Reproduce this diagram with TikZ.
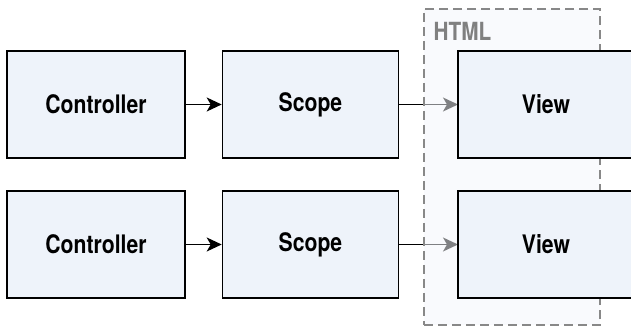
\documentclass[tikz,border=0pt]{standalone}
\usepackage{fontspec}
\setmainfont{TeX Gyre Heros}[FakeStretch=0.83,UprightFont=*,BoldFont=*-Bold]
\usetikzlibrary{arrows.meta}
\definecolor{boxfill}{RGB}{238,243,250}
\definecolor{dashgray}{RGB}{136,136,136}
\definecolor{htmlgray}{RGB}{128,128,128}
\definecolor{veil}{RGB}{245,247,252}
\tikzset{
  compbox/.style={draw=black, line width=1.6pt, fill=boxfill, minimum width=176pt, minimum height=107pt, inner sep=0pt, font=\fontsize{25.5}{30}\selectfont\bfseries},
  flow/.style={draw=black, line width=1.6pt, -{Stealth[length=15pt,width=14pt,inset=4pt]}},
  container/.style={draw=dashgray, line width=1.5pt, dash pattern=on 9pt off 5pt, fill=veil, fill opacity=0.52}
}
\begin{document}
\begin{tikzpicture}[x=1pt,y=-1pt]
\useasboundingbox (0,0) rectangle (631,328);
\clip (0,0) rectangle (631,328);
\fill[white] (0,0) rectangle (631,328);
\node[compbox, minimum width=178pt] (c1) at (96,104.5) {Controller};
\node[compbox] (s1) at (310.5,104.5) {Scope};
\node[compbox, minimum width=178pt] (c2) at (96,244.5) {Controller};
\node[compbox] (s2) at (310.5,244.5) {Scope};
\coordinate (v1l) at (458,104.5);
\coordinate (v2l) at (458,244.5);
\draw[flow] (c1) -- (s1);
\draw[flow] (c2) -- (s2);
\draw[flow] (s1.east) -- (v1l);
\draw[flow] (s2.east) -- (v2l);
\node[container, minimum width=176pt, minimum height=316pt, inner sep=0pt] (html) at (512,167) {};
\node[anchor=base west, inner sep=0pt, text=htmlgray, font=\fontsize{25}{30}\selectfont\bfseries] (htmllabel) at (433.5,40.7) {HTML};
\node[compbox] (v1) at (546,104.5) {View};
\node[compbox] (v2) at (546,244.5) {View};
\end{tikzpicture}
\end{document}
